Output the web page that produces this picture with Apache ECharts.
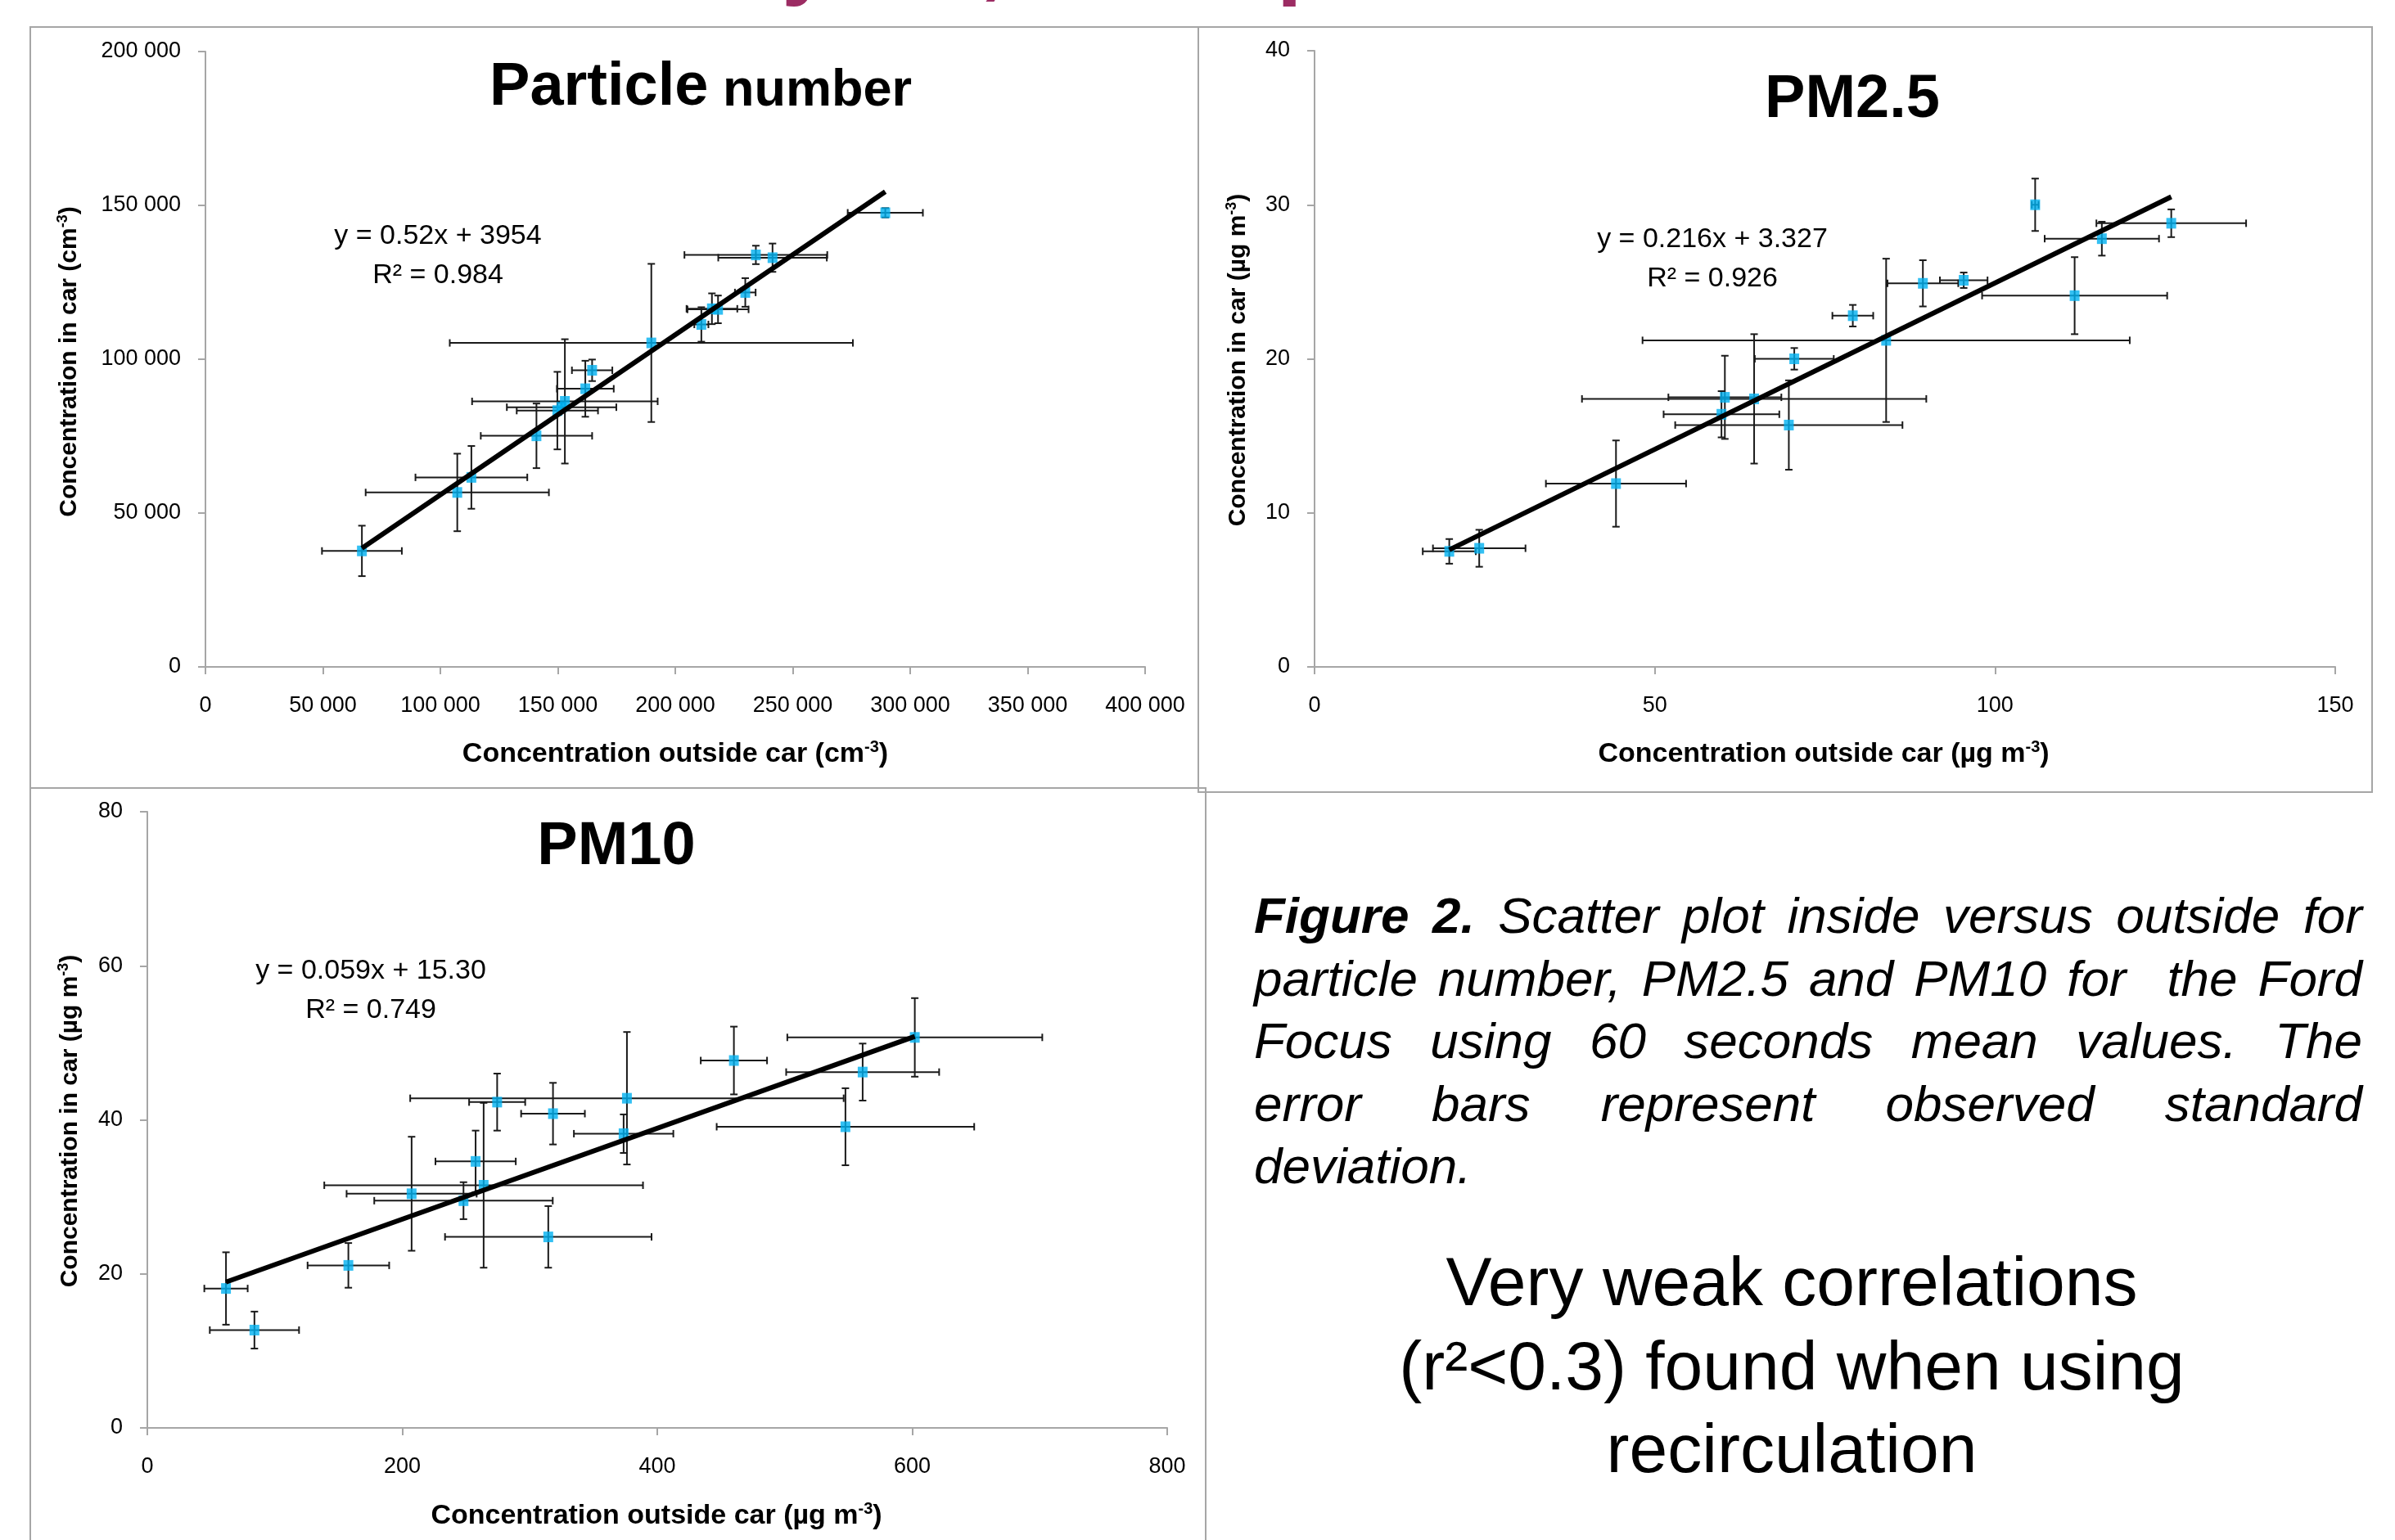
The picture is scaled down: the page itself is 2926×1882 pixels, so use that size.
<!DOCTYPE html>
<html>
<head>
<meta charset="utf-8">
<script src="https://cdn.jsdelivr.net/npm/echarts@6/dist/echarts.min.js"></script>
<style>
html,body{margin:0;padding:0;background:#fff;}
#c{width:2926px;height:1882px;}
</style>
</head>
<body>
<div id="c"></div>
<script>
// ---------------- DATA ----------------
// Particle number (cm-3)
const pnX    = [66600,107200,113200,140900,149800,153000,151600,161700,164600,189800,211100,215600,218200,229800,234300,241400,289400];
const pnY    = [37700,56700,61600,75100,83300,86300,84400,90400,96400,105300,111300,116400,116200,121700,133900,133000,147600];
const pnXErr = [17000,39000,23800,23700,17300,39500,23300,12100,8600,85800,3000,10800,13000,4400,30400,23100,16000];
const pnYErr = [8200,12600,10200,10500,12600,20200,1500,9100,3500,25700,5600,5000,4500,4650,3000,4600,1500];
const pnFit  = [0.52, 3954];
const pnXTicks = [0, 400000, 50000];
const pnYTicks = [0, 200000, 50000];

// PM2.5 (ug m-3)
const pm25X    = [19.8,24.2,44.3,59.8,60.3,64.6,69.7,70.5,84.0,79.1,89.4,95.4,105.9,111.7,115.7,125.9];
const pm25Y    = [7.5,7.7,11.9,16.4,17.5,17.4,15.7,20.0,21.2,22.8,24.9,25.1,30.0,24.1,27.8,28.8];
const pm25XErr = [3.9,6.8,10.3,8.5,8.3,25.3,16.7,5.8,35.8,3.0,5.2,3.5,0.5,13.6,8.4,11.0];
const pm25YErr = [0.8,1.2,2.8,1.5,2.7,4.2,2.9,0.7,5.3,0.7,1.5,0.5,1.7,2.5,1.1,0.9];
const pm25Fit  = [0.216, 3.327];
const pm25XTicks = [0, 150, 50];
const pm25YTicks = [0, 40, 10];

// PM10 (ug m-3)
const pm10X    = [61.7,84.0,157.7,207.3,248.0,257.5,263.8,274.4,318.2,314.5,376.2,373.6,460.1,561.1,602.0,547.6];
const pm10Y    = [18.1,12.7,21.1,30.4,29.5,34.6,31.5,42.3,40.8,24.8,42.8,38.2,47.7,46.2,50.7,39.1];
const pm10XErr = [17,35,32,51,70,31.5,125,22,25,81,170,39,26,60,100,101];
const pm10YErr = [4.7,2.4,2.9,7.4,2.4,4.0,10.7,3.7,4.0,4.0,8.6,2.5,4.4,3.7,5.1,5.0];
const pm10Fit  = [0.059, 15.30];
const pm10XTicks = [0, 800, 200];
const pm10YTicks = [0, 80, 20];

const titles = ['Particle', 'number', 'PM2.5', 'PM10'];
const equations = ['y = 0.52x + 3954', 'R² = 0.984', 'y = 0.216x + 3.327', 'R² = 0.926', 'y = 0.059x + 15.30', 'R² = 0.749'];
const captionLines = [
  'Figure 2. Scatter plot inside versus outside for',
  'particle number, PM2.5 and PM10 for  the Ford',
  'Focus using 60 seconds mean values. The',
  'error bars represent observed standard',
  'deviation.'
];
const noteLines = ['Very weak correlations', '(r²<0.3) found when using', 'recirculation'];

// ---------------- CHART ----------------
const FONT = 'Liberation Sans';
const chart = echarts.init(document.getElementById('c'), null, {renderer: 'canvas'});

const grids = [
  {left: 251, top: 63, width: 1148, height: 752},
  {left: 1606, top: 62, width: 1247, height: 753},
  {left: 180, top: 992, width: 1246, height: 753}
];

function fmtSpace(v) { return String(v).replace(/\B(?=(\d{3})+(?!\d))/g, ' '); }

function axis(t, type) {
  return {
    type: 'value', min: t[0], max: t[1], interval: t[2],
    splitLine: {show: false},
    axisLine: {show: true, lineStyle: {color: '#A6A6A6', width: 2}},
    axisTick: {show: true, length: 9, lineStyle: {color: '#A6A6A6', width: 2}},
    axisLabel: {
      color: '#000', fontFamily: FONT, fontSize: 27,
      margin: type === 'x' ? 34 : 30,
      formatter: fmtSpace
    }
  };
}

function errSeries(xs, ys, xe, ye, idx) {
  return {
    type: 'custom', xAxisIndex: idx, yAxisIndex: idx, z: 2, silent: true,
    dimensions: ['x', 'y', 'dx', 'dy'],
    encode: {x: 0, y: 1},
    data: xs.map((x, i) => [x, ys[i], xe[i], ye[i]]),
    renderItem: function (params, api) {
      const x = api.value(0), y = api.value(1), dx = api.value(2), dy = api.value(3);
      const l = api.coord([x - dx, y]), r = api.coord([x + dx, y]);
      const t = api.coord([x, y + dy]), b = api.coord([x, y - dy]);
      const c = 4.5;
      const st = {stroke: '#1a1a1a', lineWidth: 2};
      const ln = (x1, y1, x2, y2) => ({type: 'line', shape: {x1, y1, x2, y2}, style: st});
      return {type: 'group', children: [
        ln(l[0], l[1], r[0], r[1]),
        ln(l[0], l[1] - c, l[0], l[1] + c),
        ln(r[0], r[1] - c, r[0], r[1] + c),
        ln(t[0], t[1], b[0], b[1]),
        ln(t[0] - c, t[1], t[0] + c, t[1]),
        ln(b[0] - c, b[1], b[0] + c, b[1])
      ]};
    }
  };
}

function scatterSeries(xs, ys, idx) {
  return {
    type: 'scatter', xAxisIndex: idx, yAxisIndex: idx, z: 3, silent: true,
    symbol: 'rect', symbolSize: [12, 13],
    itemStyle: {color: '#00B0F0'},
    data: xs.map((x, i) => [x, ys[i]])
  };
}

function fitSeries(xs, fit, idx) {
  const x0 = Math.min(...xs), x1 = Math.max(...xs);
  return {
    type: 'line', xAxisIndex: idx, yAxisIndex: idx, z: 4, silent: true,
    symbol: 'none', lineStyle: {color: '#000', width: 6},
    data: [[x0, fit[0] * x0 + fit[1]], [x1, fit[0] * x1 + fit[1]]]
  };
}

// ---------- graphic texts ----------
const ctx = document.createElement('canvas').getContext('2d');
function tw(size, weight, style, s) {
  ctx.font = `${style} ${weight} ${size}px "${FONT}"`;
  return ctx.measureText(s).width;
}
const G = [];
function text(x, baseline, s, size, o) {
  o = o || {};
  G.push({
    type: 'text', x: x, y: baseline - 0.3465 * size, z: 20, silent: true,
    style: {
      text: s, fontSize: size, fontFamily: FONT,
      fontWeight: o.weight || 'normal', fontStyle: o.style || 'normal',
      fill: o.color || '#000', align: o.align || 'left', verticalAlign: 'middle'
    }
  });
}
function unitTitle(x, y, pre, sup, post, rot, size) {
  const s = size || 30;
  G.push({
    type: 'text', x: x, y: y, rotation: rot || 0, z: 20, silent: true,
    style: {
      text: `{a|${pre}}{s|${sup}}{a|${post}}`,
      align: 'center', verticalAlign: 'middle',
      rich: {
        a: {fontSize: s, fontWeight: 'bold', fontFamily: FONT, fill: '#000', lineHeight: s + 4},
        s: {fontSize: Math.round(s * 0.6), fontWeight: 'bold', fontFamily: FONT, fill: '#000', verticalAlign: 'top', lineHeight: s + 4}
      }
    }
  });
}

// panel borders
[[37, 33, 1427, 930], [1464, 33, 1434, 935], [37, 963, 1436, 960]].forEach(r => {
  G.push({type: 'rect', z: 0, silent: true, shape: {x: r[0], y: r[1], width: r[2], height: r[3]},
    style: {fill: null, stroke: '#A6A6A6', lineWidth: 2}});
});

// magenta slide-title fragments cut off at the top
text(955, -7, 'y', 110, {weight: 'bold', color: '#9C2C63'});
text(1197, -7, ',', 110, {weight: 'bold', color: '#9C2C63'});
text(1560, -7, 'p', 110, {weight: 'bold', color: '#9C2C63'});

// chart titles
(function () {
  const w1 = tw(74, 'bold', 'normal', titles[0]), ws = tw(63, 'bold', 'normal', ' '), w2 = tw(63, 'bold', 'normal', titles[1]);
  const start = 856 - (w1 + ws + w2) / 2;
  text(start, 133, titles[0], 74, {weight: 'bold'});
  text(start + w1 + ws, 133, titles[1], 63, {weight: 'bold'});
})();
text(2263, 148, titles[2], 74, {weight: 'bold', align: 'center'});
text(753, 1061, titles[3], 74, {weight: 'bold', align: 'center'});

// equations
text(535, 300, equations[0], 34, {align: 'center'});
text(535, 348, equations[1], 34, {align: 'center'});
text(2092, 304, equations[2], 34, {align: 'center'});
text(2092, 352, equations[3], 34, {align: 'center'});
text(453, 1198, equations[4], 34, {align: 'center'});
text(453, 1246, equations[5], 34, {align: 'center'});

// axis titles
unitTitle(825, 922, 'Concentration outside car (cm', '-3', ')', 0, 34);
unitTitle(85, 442, 'Concentration in car (cm', '-3', ')', Math.PI / 2, 30);
unitTitle(2228, 922, 'Concentration outside car (µg m', '-3', ')', 0, 34);
unitTitle(1513, 440, 'Concentration in car (µg m', '-3', ')', Math.PI / 2, 30);
unitTitle(802, 1853, 'Concentration outside car (µg m', '-3', ')', 0, 34);
unitTitle(86, 1370, 'Concentration in car (µg m', '-3', ')', Math.PI / 2, 30);

// caption (justified)
(function () {
  const X0 = 1532, W = 1354, FS = 62;
  const bases = [1144, 1221, 1297, 1374, 1450];
  captionLines.forEach((line, li) => {
    const words = line.split(' ');
    const isBold = (wi) => li === 0 && wi < 2;
    const widths = words.map((w, wi) => tw(FS, isBold(wi) ? 'bold' : 'normal', 'italic', w));
    const total = widths.reduce((a, b) => a + b, 0);
    const justify = li < captionLines.length - 1;
    const gap = justify ? (W - total) / (words.length - 1) : tw(FS, 'normal', 'italic', ' ');
    let x = X0;
    words.forEach((w, wi) => {
      if (w.length) text(x, bases[li], w, FS, {style: 'italic', weight: isBold(wi) ? 'bold' : 'normal'});
      x += widths[wi] + gap;
    });
  });
})();

// note
[1601, 1704, 1805].forEach((b, i) => text(2189, b, noteLines[i], 84, {align: 'center'}));

const option = {
  animation: false,
  backgroundColor: '#fff',
  grid: grids.map(g => Object.assign({containLabel: false, outerBoundsMode: 'none'}, g)),
  xAxis: [
    Object.assign(axis(pnXTicks, 'x'), {gridIndex: 0}),
    Object.assign(axis(pm25XTicks, 'x'), {gridIndex: 1}),
    Object.assign(axis(pm10XTicks, 'x'), {gridIndex: 2})
  ],
  yAxis: [
    Object.assign(axis(pnYTicks, 'y'), {gridIndex: 0}),
    Object.assign(axis(pm25YTicks, 'y'), {gridIndex: 1}),
    Object.assign(axis(pm10YTicks, 'y'), {gridIndex: 2})
  ],
  series: [
    errSeries(pnX, pnY, pnXErr, pnYErr, 0),
    scatterSeries(pnX, pnY, 0),
    fitSeries(pnX, pnFit, 0),
    errSeries(pm25X, pm25Y, pm25XErr, pm25YErr, 1),
    scatterSeries(pm25X, pm25Y, 1),
    fitSeries(pm25X, pm25Fit, 1),
    errSeries(pm10X, pm10Y, pm10XErr, pm10YErr, 2),
    scatterSeries(pm10X, pm10Y, 2),
    fitSeries(pm10X, pm10Fit, 2)
  ],
  graphic: G
};
chart.setOption(option);
</script>
</body>
</html>
